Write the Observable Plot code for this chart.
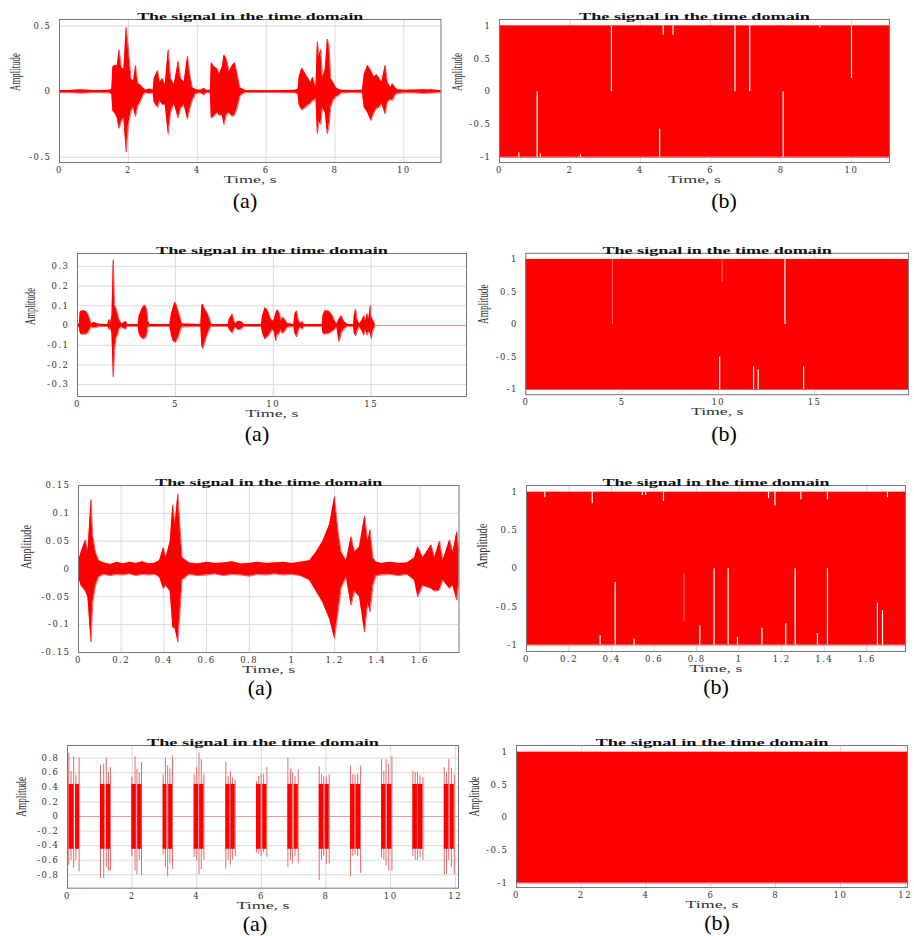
<!DOCTYPE html>
<html>
<head>
<meta charset="utf-8">
<script src="https://cdn.jsdelivr.net/npm/d3@7"></script>
<script src="https://cdn.jsdelivr.net/npm/@observablehq/plot@0.6"></script>
<style>
html, body { margin: 0; padding: 0; background: #fff; overflow: hidden; width: 914px; height: 936px; }
#root { position: relative; width: 914px; height: 936px; overflow: hidden; }
.panel { position: absolute; }
.cap { position: absolute; font-family: "Liberation Serif", "Times New Roman", serif; font-size: 22px; line-height: 22px; transform: translate(-50%, -50%); color: #000; white-space: nowrap; }
</style>
</head>
<body>
<div id="root"></div>
<script>
// ---------- texts ----------
const TITLE = "The signal in the time domain";
const XLABEL = "Time, s";
const YLABEL = "Amplitude";
const CAPTIONS = ["(a)", "(b)", "(a)", "(b)", "(a)", "(b)", "(a)", "(b)"];

// ---------- tick values ----------
const ticks1aX = [0, 2, 4, 6, 8, 10];
const ticks1aY = [-0.5, 0, 0.5];
const ticks1bX = [0, 2, 4, 6, 8, 10];
const ticks1bY = [-1, -0.5, 0, 0.5, 1];
const ticks2aX = [0, 5, 10, 15];
const ticks2aY = [-0.3, -0.2, -0.1, 0, 0.1, 0.2, 0.3];
const ticks2bX = [0, 5, 10, 15];
const ticks2bY = [-1, -0.5, 0, 0.5, 1];
const ticks3aX = [0, 0.2, 0.4, 0.6, 0.8, 1, 1.2, 1.4, 1.6];
const ticks3aY = [-0.15, -0.1, -0.05, 0, 0.05, 0.1, 0.15];
const ticks3bX = [0, 0.2, 0.4, 0.6, 0.8, 1, 1.2, 1.4, 1.6];
const ticks3bY = [-1, -0.5, 0, 0.5, 1];
const ticks4aX = [0, 2, 4, 6, 8, 10, 12];
const ticks4aY = [-0.8, -0.6, -0.4, -0.2, 0, 0.2, 0.4, 0.6, 0.8];
const ticks4bX = [0, 2, 4, 6, 8, 10, 12];
const ticks4bY = [-1, -0.5, 0, 0.5, 1];

// ---------- signal envelopes: [time s, upper, lower] ----------
const sig1a = [[0,0.008,-0.008],[0.3,0.008,-0.008],[0.5,0.012,-0.01],[0.6,0.015,-0.012],[0.7,0.012,-0.012],[0.85,0.01,-0.01],[1.0,0.008,-0.008],[1.2,0.008,-0.008],[1.45,0.01,-0.01],[1.52,0.02,-0.02],[1.55,0.19,-0.15],[1.60,0.2,-0.16],[1.68,0.2,-0.2],[1.73,0.32,-0.28],[1.80,0.18,-0.23],[1.87,0.17,-0.2],[1.94,0.49,-0.46],[2.00,0.33,-0.26],[2.08,0.1,-0.15],[2.15,0.08,-0.12],[2.21,0.2,-0.19],[2.28,0.06,-0.11],[2.35,0.05,-0.08],[2.43,0.03,-0.03],[2.50,0.01,-0.01],[2.62,0.02,-0.015],[2.72,0.01,-0.01],[2.75,0.1,-0.08],[2.85,0.16,-0.12],[2.92,0.07,-0.07],[2.99,0.1,-0.1],[3.07,0.05,-0.1],[3.16,0.32,-0.32],[3.23,0.1,-0.16],[3.33,0.05,-0.09],[3.45,0.23,-0.2],[3.52,0.1,-0.13],[3.62,0.07,-0.1],[3.72,0.27,-0.21],[3.79,0.13,-0.13],[3.86,0.03,-0.07],[3.96,0.015,-0.015],[4.10,0.01,-0.01],[4.20,0.025,-0.025],[4.28,0.008,-0.008],[4.38,0.01,-0.01],[4.41,0.22,-0.2],[4.49,0.19,-0.19],[4.59,0.17,-0.16],[4.64,0.13,-0.18],[4.73,0.19,-0.18],[4.78,0.28,-0.25],[4.85,0.25,-0.18],[4.93,0.15,-0.16],[5.02,0.2,-0.19],[5.09,0.22,-0.18],[5.17,0.13,-0.12],[5.24,0.03,-0.04],[5.31,0.02,-0.02],[5.40,0.008,-0.008],[6.0,0.006,-0.006],[6.5,0.008,-0.008],[6.85,0.01,-0.01],[6.93,0.02,-0.02],[6.96,0.11,-0.1],[7.04,0.18,-0.14],[7.11,0.15,-0.13],[7.20,0.11,-0.11],[7.30,0.07,-0.09],[7.35,0.11,-0.07],[7.40,0.07,-0.07],[7.45,0.03,-0.05],[7.49,0.38,-0.32],[7.54,0.27,-0.23],[7.59,0.32,-0.25],[7.64,0.1,-0.12],[7.72,0.17,-0.16],[7.78,0.4,-0.32],[7.83,0.35,-0.26],[7.88,0.1,-0.12],[7.95,0.07,-0.07],[8.03,0.03,-0.04],[8.12,0.015,-0.03],[8.20,0.01,-0.01],[8.50,0.008,-0.008],[8.80,0.01,-0.01],[8.85,0.13,-0.12],[8.95,0.2,-0.16],[9.05,0.16,-0.22],[9.14,0.11,-0.16],[9.21,0.13,-0.13],[9.29,0.1,-0.12],[9.36,0.07,-0.09],[9.46,0.2,-0.17],[9.53,0.07,-0.08],[9.62,0.03,-0.06],[9.67,0.06,-0.07],[9.75,0.03,-0.03],[9.82,0.015,-0.015],[10.0,0.01,-0.01],[10.3,0.012,-0.01],[10.6,0.015,-0.015],[10.7,0.012,-0.012],[10.8,0.015,-0.012],[11.0,0.008,-0.008],[11.08,0.008,-0.008]];

const sig2a = [[0,0.005,-0.005],[0.1,0.01,-0.01],[0.13,0.065,-0.035],[0.18,0.072,-0.044],[0.30,0.075,-0.045],[0.43,0.072,-0.045],[0.52,0.06,-0.04],[0.64,0.03,-0.02],[0.69,0.008,-0.008],[0.86,0.015,-0.012],[0.98,0.01,-0.01],[1.11,0.006,-0.006],[1.55,0.005,-0.005],[1.62,0.03,-0.02],[1.68,0.01,-0.01],[1.76,0.05,-0.04],[1.83,0.334,-0.262],[1.90,0.1,-0.13],[1.96,0.09,-0.07],[2.05,0.06,-0.05],[2.13,0.03,-0.02],[2.25,0.008,-0.008],[2.47,0.02,-0.02],[2.55,0.005,-0.005],[3.10,0.005,-0.005],[3.15,0.05,-0.04],[3.24,0.07,-0.06],[3.32,0.09,-0.065],[3.41,0.1,-0.07],[3.46,0.1,-0.065],[3.55,0.08,-0.05],[3.60,0.02,-0.01],[3.70,0.005,-0.005],[4.72,0.005,-0.005],[4.77,0.04,-0.03],[4.80,0.06,-0.05],[4.89,0.09,-0.08],[4.97,0.117,-0.085],[5.03,0.11,-0.085],[5.16,0.07,-0.06],[5.28,0.03,-0.02],[5.33,0.008,-0.008],[6.30,0.005,-0.005],[6.35,0.1,-0.1],[6.39,0.109,-0.118],[6.47,0.09,-0.1],[6.59,0.07,-0.06],[6.69,0.05,-0.035],[6.79,0.02,-0.01],[6.85,0.005,-0.005],[7.70,0.005,-0.005],[7.75,0.03,-0.02],[7.92,0.058,-0.04],[8.00,0.02,-0.02],[8.10,0.008,-0.008],[8.17,0.02,-0.02],[8.29,0.022,-0.022],[8.43,0.015,-0.015],[8.50,0.005,-0.005],[9.40,0.005,-0.005],[9.45,0.05,-0.04],[9.58,0.09,-0.07],[9.70,0.08,-0.06],[9.84,0.04,-0.04],[9.96,0.02,-0.02],[10.05,0.03,-0.03],[10.13,0.06,-0.078],[10.21,0.08,-0.05],[10.33,0.06,-0.04],[10.40,0.02,-0.02],[10.47,0.04,-0.04],[10.60,0.03,-0.03],[10.72,0.01,-0.01],[11.05,0.005,-0.005],[11.11,0.06,-0.04],[11.20,0.075,-0.058],[11.28,0.03,-0.03],[11.38,0.008,-0.008],[11.49,0.02,-0.02],[11.58,0.005,-0.005],[12.50,0.005,-0.005],[12.54,0.05,-0.04],[12.64,0.075,-0.044],[12.85,0.072,-0.04],[13.02,0.05,-0.03],[13.15,0.02,-0.02],[13.25,0.008,-0.008],[13.36,0.03,-0.082],[13.48,0.05,-0.04],[13.61,0.02,-0.02],[13.80,0.005,-0.005],[14.10,0.005,-0.005],[14.14,0.05,-0.04],[14.21,0.083,-0.053],[14.29,0.03,-0.03],[14.40,0.005,-0.005],[14.55,0.03,-0.03],[14.63,0.05,-0.05],[14.72,0.02,-0.02],[14.80,0.06,-0.05],[14.88,0.03,-0.03],[14.96,0.1,-0.04],[15.01,0.04,-0.065],[15.09,0.03,-0.03],[15.20,0.005,-0.005]];
// silent tail of panel 2(a): [time s, amplitude]
const tail2a = [[15.2,0],[19.87,0]];

const sig3a = [[0,0.013,-0.013],[0.0125,0.03,-0.03],[0.033,0.052,-0.04],[0.044,0.03,-0.05],[0.059,0.125,-0.131],[0.067,0.06,-0.06],[0.08,0.03,-0.03],[0.095,0.015,-0.015],[0.12,0.011,-0.01],[0.15,0.008,-0.012],[0.18,0.012,-0.01],[0.21,0.009,-0.011],[0.24,0.012,-0.009],[0.27,0.01,-0.012],[0.30,0.013,-0.01],[0.33,0.009,-0.011],[0.36,0.011,-0.01],[0.38,0.015,-0.015],[0.398,0.038,-0.035],[0.41,0.02,-0.03],[0.43,0.05,-0.04],[0.442,0.115,-0.105],[0.453,0.08,-0.107],[0.466,0.135,-0.131],[0.477,0.07,-0.07],[0.486,0.02,-0.02],[0.52,0.011,-0.01],[0.56,0.009,-0.012],[0.60,0.012,-0.011],[0.64,0.01,-0.009],[0.68,0.011,-0.012],[0.72,0.013,-0.01],[0.76,0.009,-0.011],[0.80,0.01,-0.013],[0.84,0.012,-0.01],[0.88,0.01,-0.011],[0.92,0.011,-0.009],[0.96,0.012,-0.011],[1.0,0.01,-0.01],[1.04,0.012,-0.012],[1.083,0.015,-0.02],[1.114,0.03,-0.04],[1.145,0.05,-0.06],[1.177,0.08,-0.09],[1.2,0.13,-0.125],[1.216,0.07,-0.08],[1.231,0.03,-0.035],[1.255,0.015,-0.015],[1.278,0.058,-0.065],[1.294,0.03,-0.04],[1.317,0.04,-0.05],[1.341,0.095,-0.113],[1.356,0.05,-0.06],[1.367,0.07,-0.077],[1.38,0.02,-0.03],[1.395,0.012,-0.012],[1.42,0.01,-0.011],[1.46,0.012,-0.01],[1.50,0.01,-0.012],[1.54,0.011,-0.01],[1.575,0.02,-0.02],[1.59,0.04,-0.05],[1.614,0.02,-0.03],[1.653,0.043,-0.035],[1.669,0.02,-0.04],[1.692,0.05,-0.038],[1.708,0.015,-0.02],[1.739,0.052,-0.035],[1.755,0.03,-0.03],[1.773,0.067,-0.056],[1.783,0.03,-0.02]];

// panel 4(a): square bursts [start s, end s] at fixed levels, plus spikes [time s, upper, lower]
const blocks4a = [[0.05,0.20],[0.25,0.37],[1.02,1.16],[1.20,1.33],[1.99,2.13],[2.17,2.30],[2.96,3.08],[3.13,3.25],[3.92,4.06],[4.09,4.22],[4.90,5.03],[5.06,5.19],[5.85,5.99],[6.04,6.17],[6.82,6.96],[7.01,7.14],[7.79,7.93],[7.97,8.10],[8.76,8.90],[8.93,9.07],[9.72,9.86],[9.90,10.04],[10.69,10.83],[10.86,11.00],[11.66,11.80],[11.84,11.97]];
const block4aTop = 0.44;
const block4aBottom = -0.45;
const spikes4a = [[0.04,0.87,-0.67],[0.11,0.62,-0.6],[0.19,0.82,-0.71],[0.26,0.57,-0.6],[0.36,0.8,-0.76],
[1.02,0.7,-0.85],[1.12,0.72,-0.85],[1.20,0.8,-0.7],[1.27,0.6,-0.75],[1.33,0.67,-0.75],
[1.99,0.54,-0.55],[2.09,0.82,-0.75],[2.15,0.65,-0.8],[2.22,0.6,-0.6],[2.29,0.74,-0.81],
[2.96,0.57,-0.53],[3.03,0.8,-0.7],[3.10,0.7,-0.83],[3.17,0.65,-0.65],[3.25,0.83,-0.73],
[3.92,0.57,-0.56],[4.00,0.67,-0.6],[4.07,0.87,-0.8],[4.14,0.78,-0.73],[4.22,0.58,-0.6],
[4.90,0.74,-0.72],[4.97,0.55,-0.6],[5.04,0.62,-0.67],[5.11,0.53,-0.6],[5.19,0.5,-0.55],
[5.85,0.48,-0.5],[5.92,0.55,-0.52],[5.99,0.58,-0.55],[6.07,0.58,-0.5],[6.17,0.67,-0.56],
[6.82,0.8,-0.7],[6.90,0.65,-0.6],[6.96,0.6,-0.65],[7.04,0.55,-0.55],[7.14,0.64,-0.65],
[7.79,0.68,-0.88],[7.86,0.58,-0.6],[7.93,0.55,-0.55],[8.01,0.54,-0.66],[8.10,0.57,-0.65],
[8.76,0.69,-0.83],[8.83,0.58,-0.55],[8.90,0.57,-0.53],[8.98,0.58,-0.55],[9.07,0.69,-0.78],
[9.72,0.78,-0.57],[9.79,0.62,-0.6],[9.86,0.78,-0.68],[9.94,0.72,-0.75],[10.04,0.82,-0.75],
[10.69,0.62,-0.55],[10.76,0.6,-0.6],[10.83,0.61,-0.6],[10.91,0.56,-0.57],[11.00,0.53,-0.6],
[11.66,0.67,-0.8],[11.73,0.6,-0.8],[11.80,0.78,-0.6],[11.88,0.66,-0.7],[11.97,0.57,-0.8]];

// (b) panels: full-scale envelopes [time s, upper, lower] and dropouts [time s, from, to]
const sig1b = [[0,1,-1],[11.08,1,-1]];
const gaps1b = [[1.07,0,-1],[3.18,1,0],[4.55,-0.57,-1],[4.65,1,0.86],[4.93,1,0.86],[6.69,1,0],[7.11,1,0],[8.06,0,-1],[10.0,1,0.2],[0.55,-0.93,-1],[1.16,-0.95,-1],[2.3,-0.96,-1],[9.1,1,0.97]];
const sig2b = [[0,1,-1],[19.88,1,-1]];
const gaps2b = [[13.46,1,0],[10.07,-0.5,-1],[11.83,-0.65,-1],[12.07,-0.7,-1],[14.43,-0.65,-1]];
const faint2b = [[4.5,1,0],[10.2,1,0.65]];
const sig3b = [[0,1,-1],[1.782,1,-1]];
const gaps3b = [[0.086,1,0.93],[0.309,1,0.85],[0.545,1,0.96],[0.56,1,0.96],[0.644,1,0.88],[1.138,1,0.92],[1.168,1,0.82],[1.29,1,0.9],[1.415,1,0.9],[1.697,1,0.93],[0.346,-0.88,-1],[0.417,-0.18,-1],[0.506,-0.92,-1],[0.815,-0.75,-1],[0.882,0,-1],[0.948,0,-1],[0.992,-0.9,-1],[1.107,-0.78,-1],[1.219,-0.72,-1],[1.263,0,-1],[1.368,-0.85,-1],[1.415,0,-1],[1.65,-0.45,-1],[1.674,-0.55,-1]];
const faint3b = [[0.741,-0.07,-0.69]];
const sig4b = [[0,1,-1],[12.07,1,-1]];

// ---------- drawing ----------
const RED = "#ff0000";
const SPIKE = "#e46a6a";
const ZERO = "#ee9090";
const fmt = d => String(d);
const root = document.getElementById("root");

function envelope(sig) {
  return [
    Plot.areaY(sig, {x: d => d[0], y1: d => d[2], y2: d => d[1], fill: RED}),
    Plot.line(sig, {x: d => d[0], y: d => d[1], stroke: RED, strokeWidth: 0.6}),
    Plot.line(sig, {x: d => d[0], y: d => d[2], stroke: RED, strokeWidth: 0.6})
  ];
}
function gapRules(g, opacity) {
  return Plot.ruleX(g, {x: d => d[0], y1: d => d[1], y2: d => d[2], stroke: "#fff", strokeWidth: 1.2, strokeOpacity: opacity});
}

function stretch(svg, content, len) {
  svg.querySelectorAll("text").forEach(t => {
    if (t.textContent === content) {
      t.setAttribute("textLength", len);
      t.setAttribute("lengthAdjust", "spacingAndGlyphs");
      t.style.letterSpacing = "0px";
    }
  });
}

function panel(cfg, dataMarks) {
  const ml = 64, mr = 6, mt = 20, mb = 34;
  const w = cfg.R - cfg.L, h = cfg.B - cfg.T;
  const svg = Plot.plot({
    width: w + ml + mr, height: h + mt + mb,
    marginLeft: ml, marginRight: mr, marginTop: mt, marginBottom: mb,
    style: {fontFamily: "'DejaVu Serif', serif", fontSize: "8.5px", color: "#333", background: "none", letterSpacing: "1.5px", overflow: "visible"},
    x: {domain: cfg.xd},
    y: {domain: cfg.yd},
    marks: [
      Plot.gridX(cfg.xt, {stroke: "#d9d9d9", strokeOpacity: 1}),
      Plot.gridY(cfg.yt, {stroke: "#d9d9d9", strokeOpacity: 1}),
      ...dataMarks,
      Plot.frame({stroke: "#777"}),
      Plot.axisX(cfg.xt, {tickSize: 0, tickPadding: 4.5, tickFormat: fmt, label: null}),
      Plot.axisY(cfg.yt, {tickSize: 0, tickPadding: 8, tickFormat: fmt, label: null}),
      Plot.text([TITLE], {text: d => d, frameAnchor: "top", dy: -7, fontWeight: "bold", fontSize: 10.5, fontFamily: "'Liberation Serif', serif", fill: "#111"}),
      Plot.text([XLABEL], {text: d => d, frameAnchor: "bottom", dy: 20.5, fontSize: 9.5, fontFamily: "'Liberation Serif', serif", fill: "#333"}),
      Plot.text([YLABEL], {text: d => d, frameAnchor: "left", dx: -cfg.yo, rotate: -90, fontSize: 14, fontFamily: "'Liberation Serif', serif", fill: "#333"})
    ]
  });
  stretch(svg, TITLE, cfg.tl);
  stretch(svg, XLABEL, 53);
  stretch(svg, YLABEL, cfg.yl);
  const div = document.createElement("div");
  div.className = "panel";
  div.style.left = (cfg.L - ml) + "px";
  div.style.top = (cfg.T - mt) + "px";
  div.appendChild(svg);
  root.appendChild(div);
}

panel({L: 58.5, R: 440, T: 19, B: 162, xd: [0, 11.08], yd: [-0.54, 0.55], xt: ticks1aX, yt: ticks1aY, yo: 44, yl: 38, tl: 226}, envelope(sig1a));
panel({L: 499, R: 889, T: 19, B: 162, xd: [0, 11.08], yd: [-1.08, 1.1], xt: ticks1bX, yt: ticks1bY, yo: 42, yl: 38, tl: 231}, [...envelope(sig1b), gapRules(gaps1b, 1)]);
panel({L: 77, R: 466, T: 253, B: 396, xd: [0, 19.87], yd: [-0.36, 0.365], xt: ticks2aX, yt: ticks2aY, yo: 47, yl: 37, tl: 232}, [
  Plot.line(tail2a, {x: d => d[0], y: d => d[1], stroke: ZERO, strokeWidth: 1}),
  ...envelope(sig2a)
]);
panel({L: 526, R: 913, T: 253, B: 396, xd: [0, 19.88], yd: [-1.08, 1.095], xt: ticks2bX, yt: ticks2bY, yo: 43, yl: 40, tl: 232}, [...envelope(sig2b), gapRules(gaps2b, 1), gapRules(faint2b, 0.35)]);
panel({L: 77.5, R: 458, T: 485, B: 652, xd: [0, 1.783], yd: [-0.15, 0.15], xt: ticks3aX, yt: ticks3aY, yo: 52, yl: 44, tl: 227}, envelope(sig3a));
panel({L: 526, R: 905, T: 485, B: 651, xd: [0, 1.782], yd: [-1.085, 1.09], xt: ticks3bX, yt: ticks3bY, yo: 43.5, yl: 45, tl: 227}, [...envelope(sig3b), gapRules(gaps3b, 1), gapRules(faint3b, 0.4)]);
panel({L: 67.3, R: 458.3, T: 745, B: 887.7, xd: [0, 12.1], yd: [-0.984, 0.974], xt: ticks4aX, yt: ticks4aY, yo: 46, yl: 40, tl: 232}, [
  Plot.ruleY([0], {stroke: ZERO, strokeWidth: 0.9}),
  Plot.ruleX(spikes4a, {x: d => d[0], y1: d => d[2], y2: d => d[1], stroke: SPIKE, strokeWidth: 1}),
  Plot.rect(blocks4a, {x1: d => d[0], x2: d => d[1], y1: () => block4aBottom, y2: () => block4aTop, fill: RED})
]);
panel({L: 516, R: 907, T: 745, B: 887, xd: [0, 12.07], yd: [-1.07, 1.105], xt: ticks4bX, yt: ticks4bY, yo: 42, yl: 40, tl: 233}, envelope(sig4b));

// captions
const capPos = [[245, 201], [724, 201], [257, 434], [724, 434], [260, 688], [716, 687], [255, 924], [717, 923]];
CAPTIONS.forEach((c, i) => {
  const d = document.createElement("div");
  d.className = "cap";
  d.textContent = c;
  d.style.left = capPos[i][0] + "px";
  d.style.top = capPos[i][1] + "px";
  root.appendChild(d);
});
</script>
</body>
</html>
